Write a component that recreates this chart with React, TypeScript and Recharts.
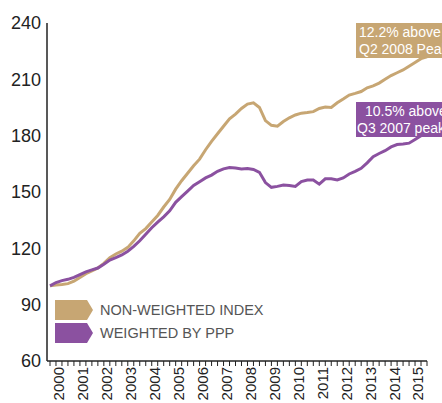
import React from "react";
import { LineChart, Line, XAxis, YAxis, Legend } from "recharts";

const years = ["2000", "2001", "2002", "2003", "2004", "2005", "2006", "2007", "2008", "2009", "2010", "2011", "2012", "2013", "2014", "2015"];
const quarterNames = ["Q1", "Q2", "Q3", "Q4"];
const yTicks = [60, 90, 120, 150, 180, 210, 240];

// quarterly index, 2000 Q1 = 100
const nonWeighted = [
  100, 100.5, 100.8, 101.2, 102.5, 104.5, 106.5, 108, 109.5, 112, 115, 117, 118.5, 120.5, 124, 128,
  130.5, 134, 137.5, 142, 146, 151.5, 156, 160, 164, 167.5, 172.5, 177, 181, 185, 189, 191.5,
  194.5, 196.8, 197.5, 195, 188, 185.5, 185, 187.5, 189.5, 191, 192, 192.3, 192.8, 194.5, 195.2, 195,
  197.5, 199.5, 201.6, 202.5, 203.5, 205.5, 206.5, 208, 210, 212, 213.5, 215, 217, 219, 221, 222,
];
const weightedByPpp = [
  100, 101.8, 102.8, 103.5, 104.5, 106, 107.5, 108.5, 109.5, 111.5, 113.8, 115, 116.5, 118.5, 121, 124,
  127.5, 131, 134, 136.8, 140, 144.5, 147.5, 150.5, 153.5, 155.5, 157.5, 159, 161, 162.3, 163, 162.8,
  162.3, 162.5, 162, 160.5, 155, 152.5, 153, 153.7, 153.5, 153, 155.5, 156.4, 156.4, 154.2, 157, 157,
  156.4, 157.5, 159.6, 161, 162.6, 165.5, 168.8, 170.5, 172, 174, 175.3, 175.6, 176, 178, 180, 181,
];

const TAN = "#c7a673";
const PURPLE = "#8b51a0";
const FONT = '"Liberation Sans", Arial, Helvetica, sans-serif';

const data = nonWeighted.map((v, i) => ({
  q: i,
  label: `${years[Math.floor(i / 4)]} ${quarterNames[i % 4]}`,
  nonWeighted: v,
  weighted: weightedByPpp[i],
}));
const quarterTicks = data.map((d) => d.q);

const QuarterTick = (props: any) => {
  const { x, y, payload } = props;
  const i = payload.value as number;
  return (
    <g>
      <line x1={x} y1={y} x2={x} y2={y + 5} stroke="#222" strokeWidth={1} />
      {i % 4 === 0 && (
        <text
          transform={`translate(${x + 9},${y + 6}) rotate(-90)`}
          textAnchor="end"
          dy="0.36em"
          fontSize={15}
          fill="#222"
          fontFamily={FONT}
        >
          {years[i / 4]}
        </text>
      )}
    </g>
  );
};

const legendItems = [
  { name: "NON-WEIGHTED INDEX", color: TAN },
  { name: "WEIGHTED BY PPP", color: PURPLE },
];

const ArrowLegend = () => (
  <div>
    {legendItems.map((it) => (
      <div key={it.name} style={{ display: "flex", alignItems: "center", height: 23 }}>
        <svg width={38} height={20} style={{ display: "block" }}>
          <polygon points="0,0 32,0 38,10 32,20 0,20" fill={it.color} />
        </svg>
        <span style={{ marginLeft: 7, fontSize: 14.5, color: "#555", fontFamily: FONT, whiteSpace: "nowrap" }}>
          {it.name}
        </span>
      </div>
    ))}
  </div>
);

const boxText: React.CSSProperties = {
  position: "absolute",
  color: "#fff",
  fontSize: 14,
  lineHeight: "17px",
  fontFamily: FONT,
  whiteSpace: "nowrap",
  width: 100,
  height: 35,
  boxSizing: "border-box",
};

export default function App() {
  return (
    <div style={{ position: "absolute", left: 0, top: 0, width: 442, height: 403, overflow: "hidden", background: "#fff" }}>
      <LineChart width={442} height={403} data={data} margin={{ top: 23, right: 15, bottom: 0, left: 0 }}>
        <XAxis
          dataKey="q"
          type="number"
          domain={[0, 63]}
          ticks={quarterTicks}
          interval={0}
          padding={{ left: 3, right: 0 }}
          height={42}
          tickLine={false}
          tickSize={0}
          tickMargin={0}
          axisLine={{ stroke: "#222", strokeWidth: 1.5 }}
          tick={<QuarterTick />}
        />
        <YAxis
          domain={[60, 240]}
          ticks={yTicks}
          width={47}
          tickLine={false}
          tickSize={0}
          tickMargin={6}
          axisLine={{ stroke: "#222", strokeWidth: 1.5 }}
          tick={{ fontSize: 18, fill: "#222", fontFamily: FONT }}
        />
        <Legend
          layout="vertical"
          align="center"
          verticalAlign="middle"
          content={<ArrowLegend />}
          wrapperStyle={{ position: "absolute", left: 55, top: 298, width: 220 }}
        />
        <Line dataKey="nonWeighted" stroke={TAN} strokeWidth={3} dot={false} type="linear" isAnimationActive={false} />
        <Line dataKey="weighted" stroke={PURPLE} strokeWidth={3} dot={false} type="linear" isAnimationActive={false} />
      </LineChart>
      <div style={{ ...boxText, left: 356, top: 23, background: TAN, paddingLeft: 3, paddingTop: 1 }}>
        <div>12.2% above</div>
        <div>Q2 2008 Peak</div>
      </div>
      <div style={{ ...boxText, left: 356, top: 102, background: PURPLE, paddingTop: 1 }}>
        <div style={{ paddingLeft: 9 }}>10.5% above</div>
        <div style={{ paddingLeft: 1 }}>Q3 2007 peak</div>
      </div>
    </div>
  );
}
